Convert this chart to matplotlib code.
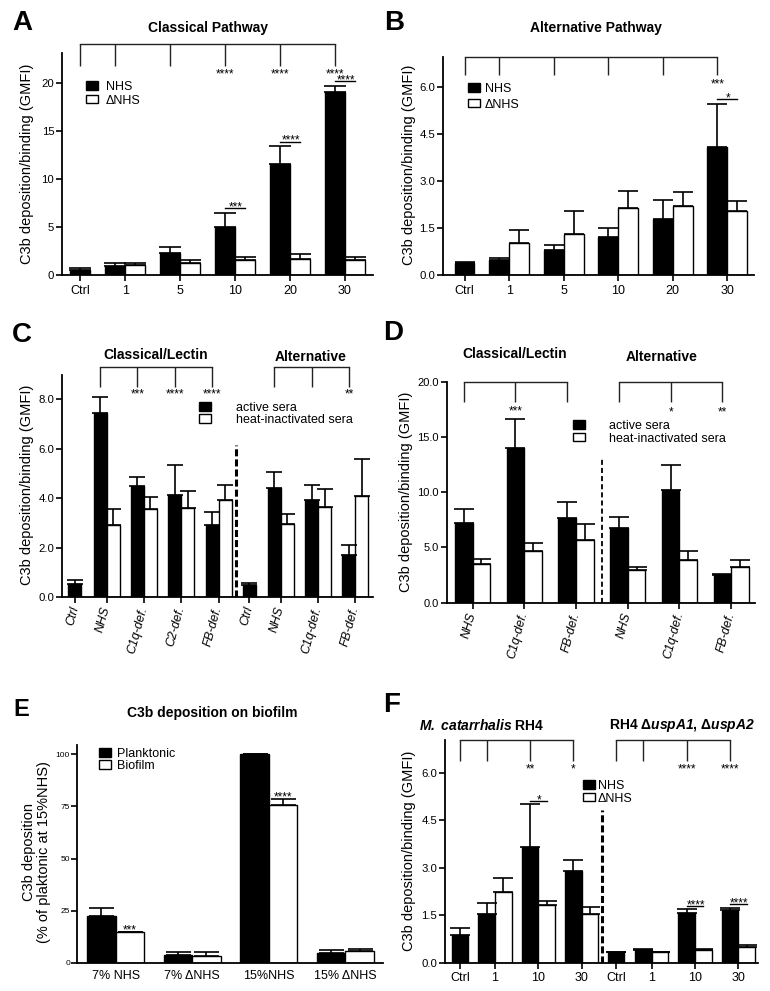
import matplotlib
matplotlib.use("Agg")
import matplotlib.pyplot as plt
from matplotlib.patches import Patch

plt.rcParams['font.family'] = ['Liberation Sans', 'DejaVu Sans']
plt.rcParams['mathtext.fontset'] = 'custom'
plt.rcParams['mathtext.rm'] = 'Liberation Sans'
plt.rcParams['mathtext.it'] = 'Liberation Sans:italic'
plt.rcParams['mathtext.bf'] = 'Liberation Sans:bold'
plt.rcParams['mathtext.bfit'] = 'Liberation Sans:italic:bold'

# ---------------- data ----------------
# Panel A - Classical pathway
a_cats = ['Ctrl', '1', '5', '10', '20', '30']
a_nhs = [0.55, 0.97, 2.28, 4.98, 11.56, 19.0]
a_nhs_err = [0.25, 0.35, 0.70, 1.52, 1.87, 0.72]
a_dnhs = [None, 1.07, 1.31, 1.56, 1.73, 1.56]
a_dnhs_err = [None, 0.17, 0.32, 0.35, 0.45, 0.35]
a_sig_ctrl = ['', '', '', '****', '****', '****']
a_sig_pair = ['', '', '', '***', '****', '****']

# Panel B - Alternative pathway
b_cats = ['Ctrl', '1', '5', '10', '20', '30']
b_nhs = [0.38, 0.49, 0.81, 1.21, 1.78, 4.07]
b_nhs_err = [0.05, 0.05, 0.14, 0.28, 0.62, 1.39]
b_dnhs = [None, 1.04, 1.31, 2.13, 2.22, 2.06]
b_dnhs_err = [None, 0.40, 0.73, 0.55, 0.43, 0.30]
b_sig_ctrl = ['', '', '', '', '', '***']
b_sig_pair = ['', '', '', '', '', '*']

# Panel C
c_cats = ['Ctrl', 'NHS', 'C1q-def.', 'C2-def.', 'FB-def.', 'Ctrl', 'NHS', 'C1q-def.', 'FB-def.']
c_active = [0.54, 7.43, 4.47, 4.13, 2.90, 0.50, 4.39, 3.92, 1.71]
c_active_err = [0.13, 0.67, 0.38, 1.20, 0.55, 0.07, 0.66, 0.60, 0.38]
c_heat = [None, 2.90, 3.56, 3.60, 3.90, None, 2.95, 3.62, 4.07]
c_heat_err = [None, 0.67, 0.50, 0.67, 0.62, None, 0.42, 0.74, 1.52]
c_sig_classical = ['', '***', '****', '****']
c_sig_alt = ['', '', '**']

# Panel D
d_cats = ['NHS', 'C1q-def.', 'FB-def.', 'NHS', 'C1q-def.', 'FB-def.']
d_active = [7.24, 13.97, 7.63, 6.76, 10.20, 2.53]
d_active_err = [1.21, 2.63, 1.51, 0.96, 2.29, 0.07]
d_heat = [3.47, 4.68, 5.67, 2.96, 3.86, 3.26]
d_heat_err = [0.45, 0.75, 1.42, 0.24, 0.82, 0.57]
d_sig_classical = ['', '***', '']
d_sig_alt = ['', '*', '**']

# Panel E
e_cats = ['7% NHS', '7% \u0394NHS', '15%NHS', '15% \u0394NHS']
e_plank = [22.6, 3.5, 100.0, 4.8]
e_plank_err = [3.8, 1.5, 0.0, 1.3]
e_bio = [14.7, 3.2, 75.8, 5.4]
e_bio_err = [0.0, 1.8, 2.9, 1.3]
e_sig = ['***', '', '****', '']

# Panel F
f_cats = ['Ctrl', '1', '10', '30', 'Ctrl', '1', '10', '30']
f_nhs = [0.87, 1.53, 3.66, 2.88, 0.33, 0.40, 1.56, 1.66]
f_nhs_err = [0.21, 0.34, 1.34, 0.36, 0.02, 0.02, 0.12, 0.08]
f_dnhs = [None, 2.23, 1.81, 1.53, None, 0.33, 0.40, 0.48]
f_dnhs_err = [None, 0.43, 0.15, 0.24, None, 0.0, 0.04, 0.07]
f_sig_wt = ['', '', '**', '*']
f_sig_mut = ['', '', '****', '****']
f_sig_pair = ['', '', '*', '', '', '', '****', '****']

YLAB = 'C3b deposition/binding (GMFI)'

# ---------------- figure helpers ----------------
W, H = 770, 991
fig = plt.figure(figsize=(W / 100, H / 100), dpi=100)


def add_ax(l, r, t, b):
    return fig.add_axes([l / W, 1 - b / H, (r - l) / W, (b - t) / H])


def fxy(x, y):
    return x / W, 1 - y / H


def style(ax, xlim, ylim, yticks, yfmt, ysize=8.2, ypad=1.8):
    ax.set_xlim(*xlim)
    ax.set_ylim(*ylim)
    for s in ['top', 'right']:
        ax.spines[s].set_visible(False)
    for s in ['left', 'bottom']:
        ax.spines[s].set_linewidth(1.3)
    ax.set_yticks(yticks)
    ax.set_yticklabels([yfmt.format(v) for v in yticks])
    ax.tick_params(axis='y', direction='out', length=4, width=1.2, labelsize=ysize, pad=ypad)
    ax.tick_params(axis='x', direction='out', length=4, width=1.2, labelsize=9, pad=3)


def draw_bars(ax, pos, blk, blk_err, wht, wht_err, w, cap):
    xb, xw, hw, ew = [], [], [], []
    for p, v, e in zip(pos, wht, wht_err):
        if v is None:
            xb.append(p)
            xw.append(None)
        else:
            xb.append(p - w / 2)
            xw.append(p + w / 2)
            hw.append(v)
            ew.append(e)
    xw_real = [x for x in xw if x is not None]
    ax.bar(xb, blk, width=w, color='black', edgecolor='black', linewidth=1.0, zorder=2)
    ax.bar(xw_real, hw, width=w, color='white', edgecolor='black', linewidth=1.0, zorder=2)
    ax.errorbar(xb, blk, yerr=[[0] * len(blk), blk_err], fmt='none', ecolor='black',
                elinewidth=1.2, capsize=cap, capthick=1.2, zorder=3)
    ax.errorbar(xw_real, hw, yerr=[[0] * len(hw), ew], fmt='none', ecolor='black',
                elinewidth=1.2, capsize=cap, capthick=1.2, zorder=3)
    return xb, xw


def stars(ax, x, y, s, fs=8.5):
    ax.annotate(s, xy=(x, y), xytext=(0, -0.58 * fs), textcoords='offset points',
                ha='center', va='baseline', fontsize=fs, annotation_clip=False)


def bracket(ax, xs, ytop, yend, labels, ystar):
    ax.plot([xs[0], xs[-1]], [ytop, ytop], color='#222222', lw=1.0, clip_on=False,
            solid_capstyle='projecting')
    for x, lab in zip(xs, labels):
        ax.plot([x, x], [ytop, yend], color='#222222', lw=1.0, clip_on=False,
                solid_capstyle='butt')
        if lab:
            stars(ax, x, ystar, lab)


def pair_line(ax, x0, x1, y, lab, ppu, off=4.5):
    ax.plot([x0, x1], [y, y], color='black', lw=1.0, clip_on=False)
    stars(ax, (x0 + x1) / 2 + 0.05 * (x1 - x0), y + off / ppu, lab)


def legend(ax, labels, x, ytop, gap, spacing):
    handles = [Patch(facecolor='black', edgecolor='black', lw=1.0),
               Patch(facecolor='white', edgecolor='black', lw=1.0)]
    ax.legend(handles, labels, loc='upper left', bbox_to_anchor=fxy(x, ytop),
              bbox_transform=fig.transFigure, frameon=False, fontsize=9,
              handlelength=0.96, handleheight=0.64, handletextpad=gap,
              labelspacing=spacing, borderpad=0, borderaxespad=0)


def ylabel(ax, text, x, y, size=10.5):
    ax.set_ylabel(text, fontsize=size, va='center', ha='center', linespacing=1.15)
    ax.yaxis.set_label_coords(*fxy(x, y), transform=fig.transFigure)


def ftext(x, y, s, **kw):
    fig.text(*fxy(x, y), s, ha='center', va='center', **kw)


# ---------------- Panel A ----------------
axA = add_ax(62.3, 373, 53, 275.3)
a_pos = [0.18, 1, 2, 3, 4, 5]
style(axA, (-0.145, 5.51), (0, 23.1), [0, 5, 10, 15, 20], '{:.0f}')
xb, xw = draw_bars(axA, a_pos, a_nhs, a_nhs_err, a_dnhs, a_dnhs_err, 0.365, 8)
axA.set_xticks(a_pos)
axA.set_xticklabels(a_cats)
ppuA = (275.3 - 53) / 23.1
bracket(axA, xb, 24.0, 21.8, a_sig_ctrl, 21.3)
for i, lab in enumerate(a_sig_pair):
    if lab:
        y = a_nhs[i] + a_nhs_err[i] + 4.5 / ppuA
        pair_line(axA, xb[i], xw[i], y, lab, ppuA)
legend(axA, ['NHS', '\u0394NHS'], 86, 81, 0.64, 0.13)
ylabel(axA, YLAB, 27, 164)
ftext(208, 28, 'Classical Pathway', fontsize=10, fontweight='bold')
ftext(22, 23, 'A', fontsize=20, fontweight='bold')

# ---------------- Panel B ----------------
axB = add_ax(443, 754, 57, 275.3)
b_pos = [0.178, 1, 2, 3, 4, 5]
style(axB, (-0.217, 5.49), (0, 6.95), [0, 1.5, 3.0, 4.5, 6.0], '{:.1f}')
xb, xw = draw_bars(axB, b_pos, b_nhs, b_nhs_err, b_dnhs, b_dnhs_err, 0.365, 7.5)
axB.set_xticks(b_pos)
axB.set_xticklabels(b_cats)
ppuB = (275.3 - 57) / 6.95
bracket(axB, xb, 6.95, 6.37, b_sig_ctrl, 6.21)
for i, lab in enumerate(b_sig_pair):
    if lab:
        y = b_nhs[i] + b_nhs_err[i] + 4.5 / ppuB
        pair_line(axB, xb[i], xw[i], y, lab, ppuB)
legend(axB, ['NHS', '\u0394NHS'], 468, 83, 0.4, 0.29)
ylabel(axB, YLAB, 409, 165)
ftext(596, 28, 'Alternative Pathway', fontsize=10, fontweight='bold')
ftext(394, 23, 'B', fontsize=20, fontweight='bold')

# ---------------- Panel C ----------------
axC = add_ax(62.3, 373, 375, 597)
c_pos = [0, 0.85, 1.85, 2.85, 3.85, 4.67, 5.52, 6.52, 7.52]
style(axC, (-0.34, 7.99), (0, 8.97), [0, 2, 4, 6, 8], '{:.1f}')
xb, xw = draw_bars(axC, c_pos, c_active, c_active_err, c_heat, c_heat_err, 0.348, 6)
axC.set_xticks(c_pos)
axC.set_xticklabels(c_cats, rotation=75, ha='right', va='center', rotation_mode='anchor',
                    style='italic')
axC.plot([4.33, 4.33], [0, 6.15], color='black', lw=2.2, linestyle=(0, (2.3, 1.0)), zorder=1)
bracket(axC, xb[1:5], 9.29, 8.47, c_sig_classical, 8.32)
bracket(axC, xb[6:9], 9.29, 8.47, c_sig_alt, 8.32)
legend(axC, ['active sera', 'heat-inactivated sera'], 199, 402, 2.0, 0.0)
ylabel(axC, YLAB, 27, 485)
ftext(156, 355, 'Classical/Lectin', fontsize=10, fontweight='bold')
ftext(311, 357, 'Alternative', fontsize=10, fontweight='bold')
ftext(22, 335, 'C', fontsize=20, fontweight='bold')

# ---------------- Panel D ----------------
axD = add_ax(446.7, 755, 381.7, 602.7)
d_pos = [0, 1, 2, 3, 4, 5]
style(axD, (-0.5, 5.46), (0, 20), [0, 5, 10, 15, 20], '{:.1f}', ysize=8.0, ypad=1.5)
xb, xw = draw_bars(axD, d_pos, d_active, d_active_err, d_heat, d_heat_err, 0.34, 7)
axD.set_xticks(d_pos)
axD.set_xticklabels(d_cats, rotation=75, ha='right', va='center', rotation_mode='anchor',
                    style='italic')
axD.plot([2.5, 2.5], [0, 13.2], color='black', lw=1.3, linestyle=(0, (2.8, 1.7)), zorder=1)
bracket(axD, xb[0:3], 20, 18.2, d_sig_classical, 17.7)
bracket(axD, xb[3:6], 20, 18.2, d_sig_alt, 17.6)
legend(axD, ['active sera', 'heat-inactivated sera'], 573, 420, 1.9, 0.05)
ylabel(axD, YLAB, 406, 492)
ftext(515, 354, 'Classical/Lectin', fontsize=10, fontweight='bold')
ftext(662, 357, 'Alternative', fontsize=10, fontweight='bold')
ftext(393, 333, 'D', fontsize=20, fontweight='bold')

# ---------------- Panel E ----------------
axE = add_ax(77, 383, 745, 962.7)
e_pos = [0, 1, 2, 3]
style(axE, (-0.504, 3.49), (0, 104.5), [0, 25, 50, 75, 100], '{:.0f}', ysize=6, ypad=1)
axE.tick_params(axis='x', length=0, pad=5)
xb, xw = draw_bars(axE, e_pos, e_plank, e_plank_err, e_bio, e_bio_err, 0.37, 9)
axE.set_xticks(e_pos)
axE.set_xticklabels(e_cats)
ppuE = (962.7 - 745) / 104.5
for i, lab in enumerate(e_sig):
    if lab:
        stars(axE, xw[i], e_bio[i] + e_bio_err[i] + 5 / ppuE, lab)
legend(axE, ['Planktonic', 'Biofilm'], 99, 748, 0.5, 0.0)
ylabel(axE, 'C3b deposition\n(% of plaktonic at 15%NHS)', 36.5, 852)
ftext(212, 713, 'C3b deposition on biofilm', fontsize=10, fontweight='bold')
ftext(21, 710, 'E', fontsize=17, fontweight='bold')

# ---------------- Panel F ----------------
axF = add_ax(445, 757.7, 740, 962.7)
f_pos = [0, 0.808, 1.808, 2.808, 3.6, 4.42, 5.42, 6.42]
style(axF, (-0.346, 6.87), (0, 7.03), [0, 1.5, 3.0, 4.5, 6.0], '{:.1f}')
xb, xw = draw_bars(axF, f_pos, f_nhs, f_nhs_err, f_dnhs, f_dnhs_err, 0.385, 7)
axF.set_xticks(f_pos)
axF.set_xticklabels(f_cats)
axF.plot([3.285, 3.285], [0, 4.81], color='black', lw=2.2, linestyle=(0, (2.3, 1.0)), zorder=1)
ppuF = (962.7 - 740) / 7.03
bracket(axF, xb[0:4], 7.03, 6.37, f_sig_wt, 6.23)
bracket(axF, xb[4:8], 7.03, 6.37, f_sig_mut, 6.23)
for i, lab in enumerate(f_sig_pair):
    if lab:
        y = f_nhs[i] + f_nhs_err[i] + 3.5 / ppuF
        pair_line(axF, xb[i], xw[i], y, lab, ppuF, off=4.0)
legend(axF, ['NHS', '\u0394NHS'], 583, 780, 0.25, 0.05)
ylabel(axF, YLAB, 409, 851)
ftext(482, 726, r'$\mathbfit{M.\ catarrhalis}$ RH4', fontsize=10, fontweight='bold')
ftext(682, 726, 'RH4 \u0394$\\mathbfit{uspA1}$, \u0394$\\mathbfit{uspA2}$', fontsize=10,
      fontweight='bold')
ftext(392, 705, 'F', fontsize=20, fontweight='bold')

fig.savefig('out.png', dpi=100)
